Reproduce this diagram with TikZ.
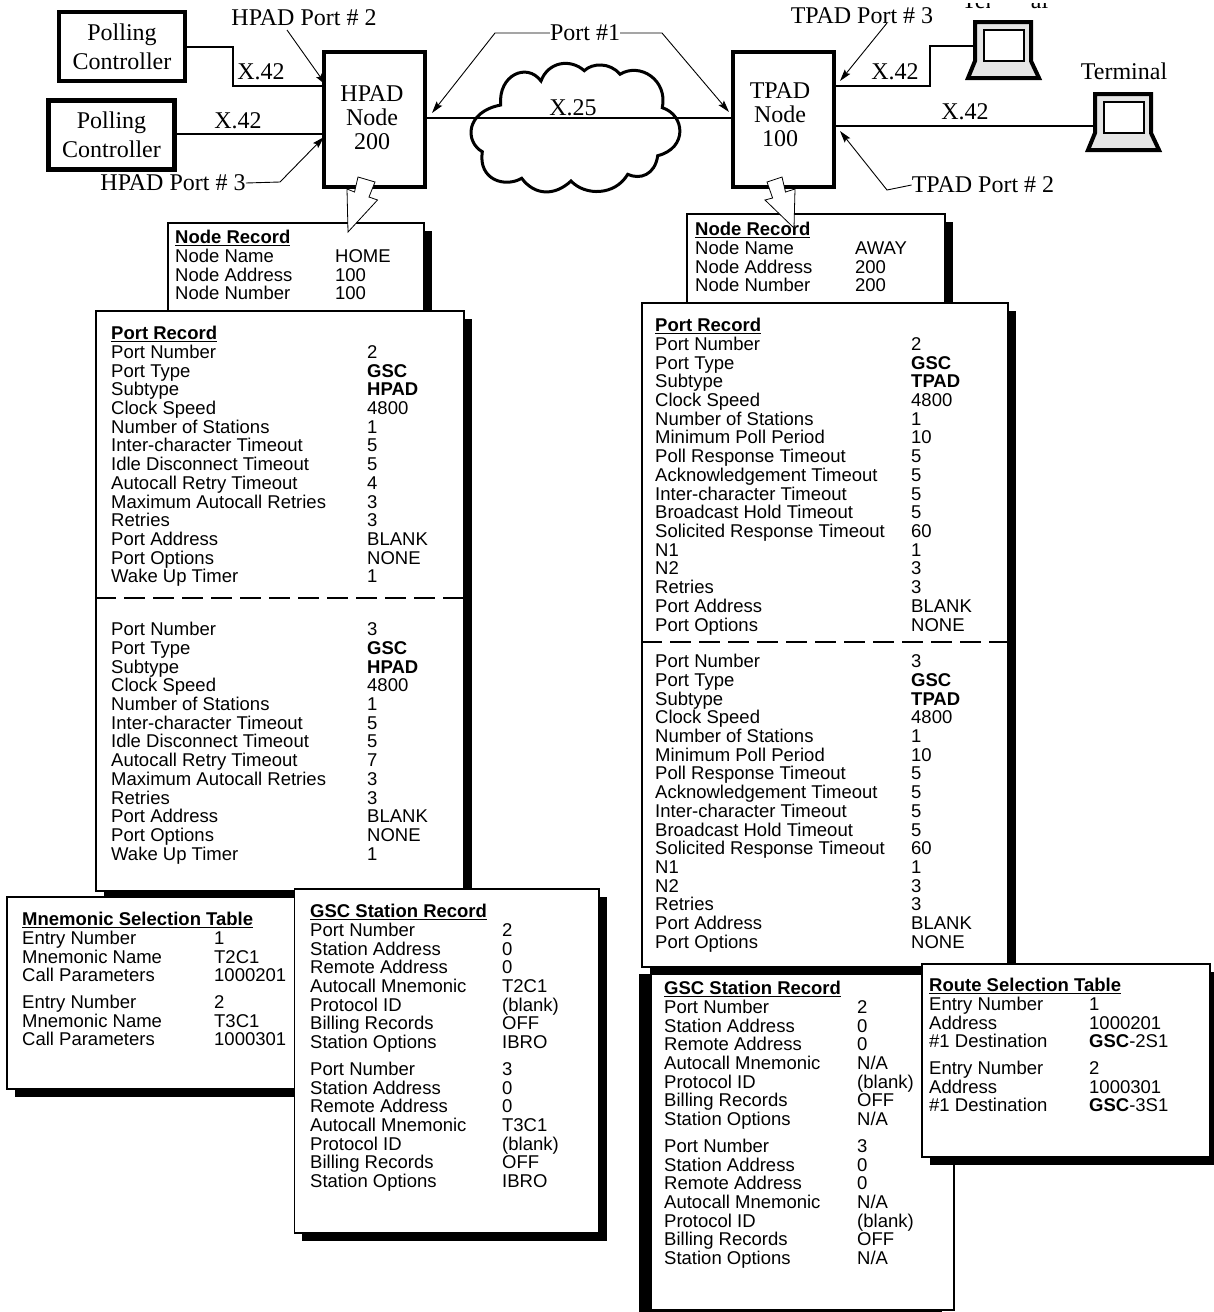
\documentclass[tikz,border=0pt]{standalone}
\usepackage{fontspec}
\setmainfont{Liberation Serif}
\setsansfont{Liberation Sans}
\usetikzlibrary{arrows.meta,positioning,calc,shadows}
\newlength{\recw}
\newcommand{\rectitle}[1]{\underline{\textbf{#1}}}
\newcommand{\rec}[2]{\makebox[\recw][l]{#1}#2}
\begin{document}
\begin{tikzpicture}[
      x=1pt,y=-1pt,
      pollbox/.style={draw,line width=4.5pt,minimum width=126pt,minimum height=69pt,align=center,inner sep=0pt,font=\fontsize{24}{29}\selectfont},
      padbox/.style={draw,line width=4.5pt,minimum width=101pt,minimum height=135pt},
      padtext/.style={align=center,inner sep=0pt,font=\fontsize{24}{24}\selectfont},
      tag/.style={inner sep=0pt,font=\fontsize{24}{24}\selectfont},
      recbox/.style={draw,fill=white,line width=1.6pt,anchor=north west,inner sep=0pt},
      shadowr/.style={drop shadow={shadow xshift=8pt,shadow yshift=-8pt,fill=black,opacity=1}},
      shadowl/.style={drop shadow={shadow xshift=-12pt,shadow yshift=-8pt,fill=black,opacity=1}},
      rectext/.style={anchor=north west,inner sep=0pt,align=left,font=\fontsize{18.5}{18.72}\selectfont\sffamily,execute at begin node={\setlength{\recw}{#1pt}}},
      wire/.style={line width=2pt},
      arr/.style={-{Stealth[length=12pt,width=7pt,inset=2pt]},line width=0.9pt},
      blockarr/.style={draw,fill=white,line width=0.8pt},
      laptop/.pic={
        \draw[fill=gray!20,line width=4pt,line join=miter] (2,2) -- (58,2) -- (58,41) -- (66,58) -- (-5,58) -- (2,41) -- cycle;
        \draw[fill=white,line width=2pt] (11,10) rectangle (51,41);
      }]
      \useasboundingbox (0,0) rectangle (1214,1312);

      % Network row
      \node[pollbox] (pc1) at (122,46.5) {Polling\\Controller};
      \node[pollbox] (pc2) at (111.5,135) {Polling\\Controller};
      \node[padbox]  (hpad) at (374.5,119.5) {};
      \node[padbox]  (tpad) at (783.5,119.5) {};
      \node[padtext] (hpadtext) at (372,118) {HPAD\\Node\\200};
      \node[padtext] (tpadtext) at (780,115) {TPAD\\Node\\100};

      % Cloud
      \draw[line width=3pt] (500.7,105) .. controls (498,75) and (527,62) .. (541,81)
        .. controls (548,62) and (570,58) .. (584.3,70.7)
        .. controls (592,63) and (610,62) .. (620,74.3)
        .. controls (640,62) and (668,80) .. (662.3,107.7)
        .. controls (685,115) and (688,148) .. (657.7,155.7)
        .. controls (655,175) and (640,180) .. (627.7,174.3)
        .. controls (615,196) and (585,196) .. (571,181)
        .. controls (555,196) and (535,196) .. (521.7,178.3)
        .. controls (505,188) and (478,180) .. (482.3,151.7)
        .. controls (465,142) and (465,112) .. cycle;

      % Terminals
      \node[tag] (term1) at (1005,0) {Terminal};
      \fill[white] (940,-20) rectangle (1060,3);
      \fill[white] (990,-20) rectangle (1031,14);
      \pic at (973,20) {laptop};
      \pic at (1093,92) {laptop};
      \node[tag] (term2) at (1124,71) {Terminal};
      \coordinate (term1port) at (975,46);
      \coordinate (term2port) at (1095,126);

      % Connectors
      \coordinate (hpadp2) at (hpad.west |- 0,86);
      \coordinate (hpadp3) at (hpad.west |- 0,134);
      \coordinate (hpadp1) at (hpad.east |- 0,118);
      \coordinate (tpadp1) at (tpad.west |- 0,118);
      \coordinate (tpadp3) at (tpad.east |- 0,86);
      \coordinate (tpadp2) at (tpad.east |- 0,126);
      \draw[wire] (pc1.east) -- ++(46,0) |- (hpadp2);
      \draw[wire] (pc2.east |- hpadp3) -- (hpadp3);
      \draw[wire] (hpadp1) -- (tpadp1);
      \draw[wire] (tpadp3) -- ++(94,0) |- (term1port);
      \draw[wire] (tpadp2) -- (term2port);

      \node[tag] (x42a) at (261,71.5) {X.42};
      \node[tag] (x42b) at (238,121) {X.42};
      \node[tag] (x25)  at (573,108) {X.25};
      \node[tag] (x42c) at (895,71.5) {X.42};
      \node[tag] (x42d) at (965,111.5) {X.42};

      % Port labels
      \node[tag] (hport2) at (304,17.5) {HPAD Port \# 2};
      \node[tag] (hport3) at (173,183) {HPAD Port \# 3};
      \node[tag] (port1)  at (585,33) {Port \#1};
      \node[tag] (tport3) at (862,15.5) {TPAD Port \# 3};
      \node[tag] (tport2) at (983,185) {TPAD Port \# 2};
      \coordinate (htip2) at (326,85);
      \coordinate (htip3) at (324,137);
      \coordinate (htip1) at (432,113);
      \coordinate (ttip1) at (729,112);
      \coordinate (ttip3) at (840,81);
      \coordinate (ttip2) at (840,131);
      \draw[arr] (287,30) -- (htip2);
      \draw[arr] (hport3.east) -- (280,182) -- (htip3);
      \draw[arr] (port1.west) -- (495,33) -- (htip1);
      \draw[arr] (port1.east) -- (662,33) -- (ttip1);
      \draw[arr] (887,23) -- (ttip3);
      \draw[arr] (tport2.west) -- (887,190) -- (ttip2);

      % HPAD side records
      \node[recbox,shadowr,minimum width=256pt,minimum height=88pt] (noderec1) at (167,222) {};
      \node[rectext=160] (noderec1text) at (175,230) {\rectitle{Node Record}\\
        \rec{Node Name}{HOME}\\
        \rec{Node Address}{100}\\
        \rec{Node Number}{100}};
      \node[recbox,shadowr,minimum width=368pt,minimum height=580pt] (portrec1) at (95,310) {};
      \node[rectext=256] (portrec1a) at (111,326) {\rectitle{Port Record}\\
        \rec{Port Number}{2}\\
        \rec{Port Type}{\textbf{GSC}}\\
        \rec{Subtype}{\textbf{HPAD}}\\
        \rec{Clock Speed}{4800}\\
        \rec{Number of Stations}{1}\\
        \rec{Inter-character Timeout}{5}\\
        \rec{Idle Disconnect Timeout}{5}\\
        \rec{Autocall Retry Timeout}{4}\\
        \rec{Maximum Autocall Retries}{3}\\
        \rec{Retries}{3}\\
        \rec{Port Address}{BLANK}\\
        \rec{Port Options}{NONE}\\
        \rec{Wake Up Timer}{1}};
      \draw[line width=1.6pt,dash pattern=on 21pt off 8pt] (portrec1.west |- 0,598) -- (portrec1.east |- 0,598);
      \node[rectext=256] (portrec1b) at (111,622) {\rec{Port Number}{3}\\
        \rec{Port Type}{\textbf{GSC}}\\
        \rec{Subtype}{\textbf{HPAD}}\\
        \rec{Clock Speed}{4800}\\
        \rec{Number of Stations}{1}\\
        \rec{Inter-character Timeout}{5}\\
        \rec{Idle Disconnect Timeout}{5}\\
        \rec{Autocall Retry Timeout}{7}\\
        \rec{Maximum Autocall Retries}{3}\\
        \rec{Retries}{3}\\
        \rec{Port Address}{BLANK}\\
        \rec{Port Options}{NONE}\\
        \rec{Wake Up Timer}{1}};
      \node[recbox,shadowr,minimum width=294pt,minimum height=192pt] (mnemtab) at (6,896) {};
      \node[rectext=192] (mnemtext) at (22,912) {\rectitle{Mnemonic Selection Table}\\
        \rec{Entry Number}{1}\\
        \rec{Mnemonic Name}{T2C1}\\
        \rec{Call Parameters}{1000201}\\[8pt]
        \rec{Entry Number}{2}\\
        \rec{Mnemonic Name}{T3C1}\\
        \rec{Call Parameters}{1000301}};
      \node[recbox,shadowr,minimum width=304.5pt,minimum height=344pt] (gscrec1) at (293.5,888) {};
      \node[rectext=192] (gscrec1text) at (310,904) {\rectitle{GSC Station Record}\\
        \rec{Port Number}{2}\\
        \rec{Station Address}{0}\\
        \rec{Remote Address}{0}\\
        \rec{Autocall Mnemonic}{T2C1}\\
        \rec{Protocol ID}{(blank)}\\
        \rec{Billing Records}{OFF}\\
        \rec{Station Options}{IBRO}\\[8pt]
        \rec{Port Number}{3}\\
        \rec{Station Address}{0}\\
        \rec{Remote Address}{0}\\
        \rec{Autocall Mnemonic}{T3C1}\\
        \rec{Protocol ID}{(blank)}\\
        \rec{Billing Records}{OFF}\\
        \rec{Station Options}{IBRO}};

      % TPAD side records
      \node[recbox,shadowr,minimum width=258pt,minimum height=89pt] (noderec2) at (686,213) {};
      \node[rectext=160] (noderec2text) at (695,222) {\rectitle{Node Record}\\
        \rec{Node Name}{AWAY}\\
        \rec{Node Address}{200}\\
        \rec{Node Number}{200}};
      \node[recbox,shadowl,minimum width=303pt,minimum height=344pt] (gscrec2) at (650,965) {};
      \node[recbox,shadowr,minimum width=366pt,minimum height=664pt] (portrec2) at (641,302) {};
      \node[rectext=256] (portrec2a) at (655,318) {\rectitle{Port Record}\\
        \rec{Port Number}{2}\\
        \rec{Port Type}{\textbf{GSC}}\\
        \rec{Subtype}{\textbf{TPAD}}\\
        \rec{Clock Speed}{4800}\\
        \rec{Number of Stations}{1}\\
        \rec{Minimum Poll Period}{10}\\
        \rec{Poll Response Timeout}{5}\\
        \rec{Acknowledgement Timeout}{5}\\
        \rec{Inter-character Timeout}{5}\\
        \rec{Broadcast Hold Timeout}{5}\\
        \rec{Solicited Response Timeout}{60}\\
        \rec{N1}{1}\\
        \rec{N2}{3}\\
        \rec{Retries}{3}\\
        \rec{Port Address}{BLANK}\\
        \rec{Port Options}{NONE}};
      \draw[line width=1.6pt,dash pattern=on 21pt off 8pt] (portrec2.west |- 0,642) -- (portrec2.east |- 0,642);
      \node[rectext=256] (portrec2b) at (655,654) {\rec{Port Number}{3}\\
        \rec{Port Type}{\textbf{GSC}}\\
        \rec{Subtype}{\textbf{TPAD}}\\
        \rec{Clock Speed}{4800}\\
        \rec{Number of Stations}{1}\\
        \rec{Minimum Poll Period}{10}\\
        \rec{Poll Response Timeout}{5}\\
        \rec{Acknowledgement Timeout}{5}\\
        \rec{Inter-character Timeout}{5}\\
        \rec{Broadcast Hold Timeout}{5}\\
        \rec{Solicited Response Timeout}{60}\\
        \rec{N1}{1}\\
        \rec{N2}{3}\\
        \rec{Retries}{3}\\
        \rec{Port Address}{BLANK}\\
        \rec{Port Options}{NONE}};
      \node[rectext=193] (gscrec2text) at (664,981) {\rectitle{GSC Station Record}\\
        \rec{Port Number}{2}\\
        \rec{Station Address}{0}\\
        \rec{Remote Address}{0}\\
        \rec{Autocall Mnemonic}{N/A}\\
        \rec{Protocol ID}{(blank)}\\
        \rec{Billing Records}{OFF}\\
        \rec{Station Options}{N/A}\\[8pt]
        \rec{Port Number}{3}\\
        \rec{Station Address}{0}\\
        \rec{Remote Address}{0}\\
        \rec{Autocall Mnemonic}{N/A}\\
        \rec{Protocol ID}{(blank)}\\
        \rec{Billing Records}{OFF}\\
        \rec{Station Options}{N/A}};
      \node[recbox,shadowr,minimum width=288pt,minimum height=193pt] (routetab) at (921,963) {};
      \node[rectext=160] (routetext) at (929,978) {\rectitle{Route Selection Table}\\
        \rec{Entry Number}{1}\\
        \rec{Address}{1000201}\\
        \rec{\#1 Destination}{\textbf{GSC}-2S1}\\[8pt]
        \rec{Entry Number}{2}\\
        \rec{Address}{1000301}\\
        \rec{\#1 Destination}{\textbf{GSC}-3S1}};

      % Block arrows from the nodes
      \path[blockarr] (358,177) -- (375,182) -- (369,197) -- (377.5,200) -- (348,232) -- (347,189) -- (354.5,192) -- cycle;
      \path[blockarr] (767,182) -- (782,177) -- (785.5,192) -- (795,189) -- (794,228) -- (765,200) -- (772.6,198) -- cycle;
    \end{tikzpicture}
\end{document}
